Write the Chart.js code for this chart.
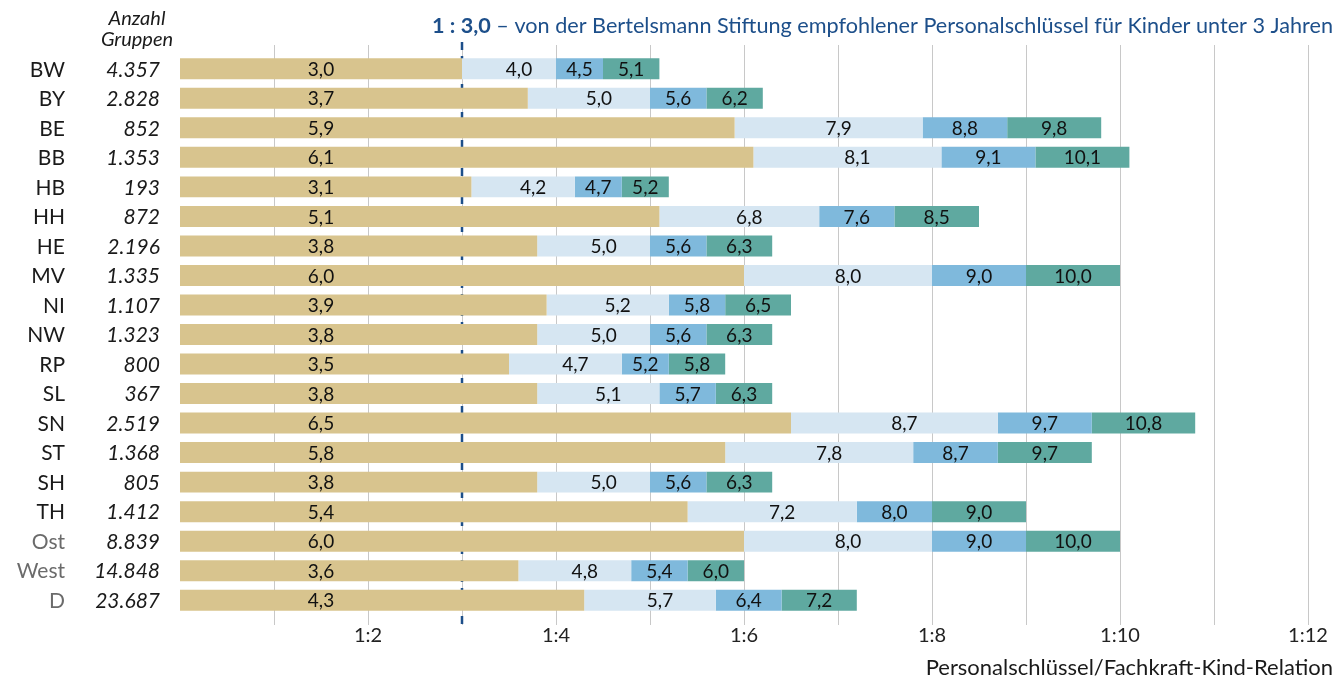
<!DOCTYPE html>
<html><head><meta charset="utf-8">
<script src="https://cdn.jsdelivr.net/npm/chart.js@4/dist/chart.umd.min.js"></script>
<style>html,body{margin:0;padding:0;background:#fff}#wrap{width:1344px;height:681px;position:relative}</style>
</head><body><div id="wrap"><canvas id="c" width="1344" height="681"></canvas></div>
<script>
const codes = ['BW','BY','BE','BB','HB','HH','HE','MV','NI','NW','RP','SL','SN','ST','SH','TH','Ost','West','D'];
const groups = ['4.357','2.828','852','1.353','193','872','2.196','1.335','1.107','1.323','800','367','2.519','1.368','805','1.412','8.839','14.848','23.687'];
const tan   = [3.0,3.7,5.9,6.1,3.1,5.1,3.8,6.0,3.9,3.8,3.5,3.8,6.5,5.8,3.8,5.4,6.0,3.6,4.3];
const light = [4.0,5.0,7.9,8.1,4.2,6.8,5.0,8.0,5.2,5.0,4.7,5.1,8.7,7.8,5.0,7.2,8.0,4.8,5.7];
const mid   = [4.5,5.6,8.8,9.1,4.7,7.6,5.6,9.0,5.8,5.6,5.2,5.7,9.7,8.7,5.6,8.0,9.0,5.4,6.4];
const teal  = [5.1,6.2,9.8,10.1,5.2,8.5,6.3,10.0,6.5,6.3,5.8,6.3,10.8,9.7,6.3,9.0,10.0,6.0,7.2];
const grayRows = ['Ost','West','D'];
const refValue = 3.0;
const xTicks = [2,4,6,8,10,12];
const titleBold = '1 : 3,0';
const titleRest = ' – von der Bertelsmann Stiftung empfohlener Personalschlüssel für Kinder unter 3 Jahren';
const axisTitle = 'Personalschlüssel/Fachkraft-Kind-Relation';

const FONT = 'Lato, "Open Sans", sans-serif';
const fmt = v => v.toFixed(1).replace('.', ',');

const ds = (lo, hi, color) => ({
  data: hi.map((v,i) => [lo ? lo[i] : 0, v]),
  backgroundColor: color, borderWidth: 0, grouped: false,
  categoryPercentage: 1, barPercentage: 0.71
});

const gridPlugin = {
  id: 'grid',
  beforeDatasetsDraw(chart) {
    const ctx = chart.ctx, x = chart.scales.x;
    ctx.save();
    ctx.strokeStyle = '#c8c8c8'; ctx.lineWidth = 1;
    for (let v = 1; v <= 12; v++) {
      const px = Math.round(x.getPixelForValue(v)) + 0.5;
      ctx.beginPath(); ctx.moveTo(px, 45); ctx.lineTo(px, 625); ctx.stroke();
    }
    const rx = x.getPixelForValue(refValue);
    ctx.strokeStyle = '#1d4f8a'; ctx.lineWidth = 2.5; ctx.setLineDash([8,6]);
    ctx.beginPath(); ctx.moveTo(rx, 42); ctx.lineTo(rx, 626); ctx.stroke();
    ctx.restore();
  },
  afterDatasetsDraw(chart) {
    const ctx = chart.ctx, x = chart.scales.x, y = chart.scales.y;
    ctx.save();
    ctx.textBaseline = 'middle';
    ctx.font = '19px ' + FONT; ctx.fillStyle = '#111'; ctx.textAlign = 'center';
    codes.forEach((c, i) => {
      const py = y.getPixelForValue(i) + 1;
      ctx.fillText(fmt(tan[i]), x.getPixelForValue(Math.min(tan[i], refValue) / 2), py);
      ctx.fillText(fmt(light[i]), x.getPixelForValue((tan[i] + light[i]) / 2) + 10, py);
      ctx.fillText(fmt(mid[i]), x.getPixelForValue((light[i] + mid[i]) / 2), py);
      ctx.fillText(fmt(teal[i]), x.getPixelForValue((mid[i] + teal[i]) / 2), py);
    });
    codes.forEach((c, i) => {
      const py = y.getPixelForValue(i) + 1;
      ctx.textAlign = 'right';
      ctx.font = '21px ' + FONT;
      ctx.fillStyle = grayRows.includes(c) ? '#6b6b6b' : '#1a1a1a';
      ctx.fillText(c, 65, py);
      ctx.font = 'italic 21px ' + FONT;
      ctx.fillStyle = '#1a1a1a';
      ctx.fillText(groups[i], 160, py);
    });
    ctx.textAlign = 'center';
    ctx.font = 'italic 20px ' + FONT; ctx.fillStyle = '#1a1a1a';
    ctx.fillText('Anzahl', 137, 19);
    ctx.fillText('Gruppen', 137, 40);
    ctx.textAlign = 'left';
    ctx.font = 'bold 21px ' + FONT;
    const wb = ctx.measureText(titleBold).width;
    ctx.font = '21px ' + FONT;
    const wr = ctx.measureText(titleRest).width;
    const right = 1333, left = 432;
    const sc = (right - left) / (wb + wr);
    ctx.save();
    ctx.translate(left, 26); ctx.scale(sc, 1);
    ctx.fillStyle = '#1d4f8a';
    ctx.font = 'bold 21px ' + FONT; ctx.fillText(titleBold, 0, 0);
    ctx.font = '21px ' + FONT; ctx.fillText(titleRest, wb, 0);
    ctx.restore();
    ctx.textAlign = 'right'; ctx.font = '22px ' + FONT; ctx.fillStyle = '#1a1a1a';
    ctx.fillText(axisTitle, 1333, 668);
    ctx.restore();
  }
};

new Chart(document.getElementById('c'), {
  type: 'bar',
  data: {
    labels: codes,
    datasets: [
      ds(null, tan, '#d8c48e'),
      ds(tan, light, '#d6e6f2'),
      ds(light, mid, '#7fb9dc'),
      ds(mid, teal, '#5fa9a0')
    ]
  },
  options: {
    indexAxis: 'y', responsive: false, animation: false,
    layout: { padding: { left: 180, right: 36, top: 54, bottom: 32 } },
    plugins: { legend: { display: false }, tooltip: { enabled: false } },
    scales: {
      y: { display: false, offset: true, grid: { display: false } },
      x: {
        min: 0, max: 12,
        grid: { display: false }, border: { display: false },
        afterBuildTicks: s => { s.ticks = xTicks.map(v => ({ value: v })); },
        ticks: { callback: v => '1:' + v, color: '#222', font: { family: FONT, size: 20 }, padding: 1, maxRotation: 0, autoSkip: false }
      }
    }
  },
  plugins: [gridPlugin]
});
</script></body></html>
